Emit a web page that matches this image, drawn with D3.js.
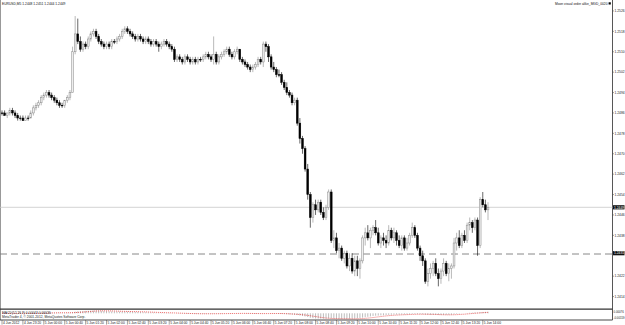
<!DOCTYPE html>
<html lang="en">
<head>
<meta charset="UTF-8">
<title>EURUSD,M5</title>
<script src="https://cdn.jsdelivr.net/npm/d3@7/dist/d3.min.js"></script>
<style>
    html, body { margin: 0; padding: 0; background: #fff; }
    svg { display: block; }
    text { font-family: "Liberation Sans", "DejaVu Sans", sans-serif; }
</style>
</head>
<body>
<script>
// M5 bars, 4 Jun 22:40 .. 5 Jun 14:10
const opens = [
    1.2486,1.2486,1.2485,1.2486,1.2487,1.2486,1.2485,1.2484,1.2484,1.2483,
    1.2484,1.2484,1.2486,1.2488,1.2489,1.2490,1.2492,1.2493,1.2494,1.2493,
    1.2492,1.2491,1.2490,1.2489,1.2489,1.2491,1.2492,1.2494,1.2510,1.2517,
    1.2514,1.2511,1.2513,1.2512,1.2515,1.2517,1.2518,1.2516,1.2514,1.2513,
    1.2512,1.2513,1.2512,1.2514,1.2514,1.2515,1.2516,1.2518,1.2519,1.2518,
    1.2517,1.2516,1.2515,1.2516,1.2515,1.2514,1.2515,1.2514,1.2513,1.2514,
    1.2513,1.2512,1.2513,1.2514,1.2513,1.2512,1.2511,1.2507,1.2508,1.2507,
    1.2506,1.2508,1.2507,1.2506,1.2507,1.2506,1.2507,1.2507,1.2508,1.2509,
    1.2508,1.2507,1.2509,1.2506,1.2508,1.2509,1.2510,1.2511,1.2509,1.2508,
    1.2510,1.2511,1.2507,1.2506,1.2505,1.2504,1.2503,1.2504,1.2505,1.2507,
    1.2506,1.2513,1.2512,1.2508,1.2504,1.2503,1.2501,1.2501,1.2498,1.2496,
    1.2494,1.2493,1.2490,1.2491,1.2482,1.2476,1.2472,1.2464,1.2454,1.2445,
    1.2450,1.2448,1.2451,1.2447,1.2445,1.2449,1.2455,1.2436,1.2437,1.2432,
    1.2433,1.2429,1.2431,1.2426,1.2429,1.2424,1.2428,1.2425,1.2428,1.2437,
    1.2439,1.2437,1.2440,1.2441,1.2439,1.2435,1.2437,1.2436,1.2435,1.2440,
    1.2437,1.2439,1.2436,1.2434,1.2437,1.2433,1.2435,1.2438,1.2441,1.2438,
    1.2433,1.2430,1.2428,1.2420,1.2423,1.2425,1.2427,1.2423,1.2421,1.2424,
    1.2427,1.2423,1.2425,1.2426,1.2435,1.2437,1.2434,1.2438,1.2436,1.2442,
    1.2443,1.2441,1.2444,1.2434,1.2452,1.2450,1.2448
];
const highs = [
    1.2487,1.2487,1.2486,1.2488,1.2488,1.2487,1.2486,1.2485,1.2485,1.2485,
    1.2485,1.2487,1.2489,1.2490,1.2491,1.2493,1.2494,1.2495,1.2495,1.2494,
    1.2493,1.2492,1.2491,1.2490,1.2491,1.2493,1.2495,1.2512,1.2524,1.2523,
    1.2516,1.2514,1.2514,1.2516,1.2518,1.2519,1.2519,1.2517,1.2515,1.2514,
    1.2514,1.2514,1.2515,1.2515,1.2516,1.2517,1.2519,1.2520,1.2520,1.2519,
    1.2518,1.2517,1.2517,1.2517,1.2516,1.2516,1.2516,1.2515,1.2515,1.2515,
    1.2514,1.2514,1.2515,1.2515,1.2514,1.2513,1.2512,1.2509,1.2509,1.2508,
    1.2509,1.2509,1.2508,1.2508,1.2508,1.2508,1.2508,1.2509,1.2510,1.2510,
    1.2509,1.2516,1.2510,1.2509,1.2510,1.2511,1.2512,1.2512,1.2510,1.2511,
    1.2512,1.2511,1.2508,1.2507,1.2506,1.2505,1.2505,1.2506,1.2508,1.2508,
    1.2514,1.2514,1.2513,1.2509,1.2506,1.2504,1.2503,1.2502,1.2499,1.2498,
    1.2495,1.2494,1.2492,1.2492,1.2484,1.2477,1.2473,1.2466,1.2455,1.2451,
    1.2452,1.2452,1.2452,1.2449,1.2450,1.2456,1.2456,1.2440,1.2439,1.2435,
    1.2434,1.2432,1.2432,1.2431,1.2431,1.2430,1.2430,1.2429,1.2438,1.2441,
    1.2442,1.2441,1.2442,1.2444,1.2441,1.2438,1.2439,1.2438,1.2442,1.2441,
    1.2441,1.2440,1.2438,1.2438,1.2438,1.2437,1.2439,1.2443,1.2442,1.2439,
    1.2434,1.2432,1.2429,1.2425,1.2427,1.2428,1.2429,1.2425,1.2425,1.2429,
    1.2428,1.2427,1.2427,1.2437,1.2439,1.2440,1.2439,1.2440,1.2443,1.2445,
    1.2444,1.2445,1.2445,1.2453,1.2455,1.2452,1.2451
];
const lows = [
    1.2485,1.2485,1.2484,1.2485,1.2485,1.2484,1.2483,1.2483,1.2483,1.2483,
    1.2483,1.2484,1.2485,1.2487,1.2488,1.2489,1.2491,1.2492,1.2492,1.2491,
    1.2490,1.2489,1.2488,1.2488,1.2488,1.2490,1.2491,1.2494,1.2509,1.2513,
    1.2510,1.2510,1.2511,1.2511,1.2514,1.2516,1.2515,1.2513,1.2512,1.2511,
    1.2511,1.2511,1.2511,1.2513,1.2513,1.2514,1.2515,1.2517,1.2517,1.2516,
    1.2515,1.2514,1.2514,1.2514,1.2513,1.2513,1.2513,1.2512,1.2512,1.2512,
    1.2510,1.2511,1.2512,1.2512,1.2511,1.2510,1.2506,1.2506,1.2506,1.2505,
    1.2505,1.2506,1.2505,1.2505,1.2505,1.2505,1.2506,1.2506,1.2507,1.2507,
    1.2506,1.2505,1.2505,1.2505,1.2507,1.2508,1.2509,1.2508,1.2507,1.2507,
    1.2509,1.2506,1.2505,1.2504,1.2503,1.2502,1.2502,1.2503,1.2504,1.2505,
    1.2504,1.2510,1.2506,1.2503,1.2502,1.2500,1.2500,1.2497,1.2495,1.2493,
    1.2492,1.2489,1.2489,1.2481,1.2474,1.2470,1.2463,1.2452,1.2441,1.2443,
    1.2446,1.2447,1.2446,1.2444,1.2444,1.2448,1.2435,1.2433,1.2431,1.2429,
    1.2428,1.2427,1.2425,1.2424,1.2423,1.2422,1.2422,1.2421,1.2427,1.2434,
    1.2436,1.2433,1.2438,1.2438,1.2434,1.2433,1.2434,1.2433,1.2434,1.2436,
    1.2435,1.2434,1.2433,1.2432,1.2432,1.2432,1.2434,1.2437,1.2437,1.2432,
    1.2428,1.2426,1.2419,1.2418,1.2421,1.2422,1.2422,1.2418,1.2419,1.2422,
    1.2422,1.2420,1.2421,1.2425,1.2432,1.2433,1.2433,1.2435,1.2435,1.2440,
    1.2439,1.2440,1.2430,1.2433,1.2449,1.2447,1.2444
];
const closes = [
    1.2486,1.2485,1.2486,1.2487,1.2486,1.2485,1.2484,1.2484,1.2483,1.2484,
    1.2484,1.2486,1.2488,1.2489,1.2490,1.2492,1.2493,1.2494,1.2493,1.2492,
    1.2491,1.2490,1.2489,1.2489,1.2491,1.2492,1.2494,1.2510,1.2517,1.2514,
    1.2511,1.2513,1.2512,1.2515,1.2517,1.2518,1.2516,1.2514,1.2513,1.2512,
    1.2513,1.2512,1.2514,1.2514,1.2515,1.2516,1.2518,1.2519,1.2518,1.2517,
    1.2516,1.2515,1.2516,1.2515,1.2514,1.2515,1.2514,1.2513,1.2514,1.2513,
    1.2512,1.2513,1.2514,1.2513,1.2512,1.2511,1.2507,1.2508,1.2507,1.2506,
    1.2508,1.2507,1.2506,1.2507,1.2506,1.2507,1.2507,1.2508,1.2509,1.2508,
    1.2507,1.2509,1.2506,1.2508,1.2509,1.2510,1.2511,1.2509,1.2508,1.2510,
    1.2511,1.2507,1.2506,1.2505,1.2504,1.2503,1.2504,1.2505,1.2507,1.2506,
    1.2513,1.2512,1.2508,1.2504,1.2503,1.2501,1.2501,1.2498,1.2496,1.2494,
    1.2493,1.2490,1.2491,1.2482,1.2476,1.2472,1.2464,1.2454,1.2445,1.2450,
    1.2448,1.2451,1.2447,1.2445,1.2449,1.2455,1.2436,1.2437,1.2432,1.2433,
    1.2429,1.2431,1.2426,1.2429,1.2424,1.2428,1.2425,1.2428,1.2437,1.2439,
    1.2437,1.2440,1.2441,1.2439,1.2435,1.2437,1.2436,1.2435,1.2440,1.2437,
    1.2439,1.2436,1.2434,1.2437,1.2433,1.2435,1.2438,1.2441,1.2438,1.2433,
    1.2430,1.2428,1.2420,1.2423,1.2425,1.2427,1.2423,1.2421,1.2424,1.2427,
    1.2423,1.2425,1.2426,1.2435,1.2437,1.2434,1.2438,1.2436,1.2442,1.2443,
    1.2441,1.2444,1.2434,1.2452,1.2450,1.2448,1.2449
];

// time axis: one label every 8 bars
const timeLabels = [
    '4 Jun 2012','4 Jun 23:20','5 Jun 00:00','5 Jun 00:40','5 Jun 01:20','5 Jun 02:00',
    '5 Jun 02:40','5 Jun 03:20','5 Jun 04:00','5 Jun 04:40','5 Jun 05:20','5 Jun 06:00',
    '5 Jun 06:40','5 Jun 07:20','5 Jun 08:00','5 Jun 08:40','5 Jun 09:20','5 Jun 10:00',
    '5 Jun 10:40','5 Jun 11:20','5 Jun 12:00','5 Jun 12:40','5 Jun 13:20','5 Jun 14:00'
];
const priceTicks = [
    1.2414,1.2422,1.2430,1.2438,1.2446,1.2454,1.2462,1.2470,
    1.2478,1.2486,1.2494,1.2502,1.2510,1.2518,1.2526
];
const bidPrice = 1.2449;
const hlinePrice = 1.2431;
const symbolName = 'EURUSD,M5';
const eaName = 'Moon visual order alike_MGD_0020';
const copyright = 'MetaTrader 4, \u00a9 2001-2012, MetaQuotes Software Corp.';

let svg = d3.select('body')
    .append('svg')
    .attr('width', 625)
    .attr('height', 325);

let bars = closes.map((c, i) => ({i: i, o: opens[i], h: highs[i], l: lows[i], c: c}));

// 2.6px per bar, price 2.55px per pip
let x = d3.scaleLinear().domain([0, bars.length - 1]).range([2, 488]);
let y = d3.scaleLinear().domain([1.2449, 1.2524]).range([207.3, 16.05]);

let fs = 3.3;
let chartRight = 612.5;

// frame
svg.append('line').attr('x1', 0.5).attr('x2', 0.5).attr('y1', 0).attr('y2', 320)
    .style('stroke', '#999').style('stroke-width', 1);
svg.append('line').attr('x1', chartRight).attr('x2', chartRight).attr('y1', 0).attr('y2', 320)
    .style('stroke', '#444').style('stroke-width', 0.9);
svg.append('line').attr('x1', 0).attr('x2', chartRight).attr('y1', 309.2).attr('y2', 309.2)
    .style('stroke', '#333').style('stroke-width', 1.3);
svg.append('line').attr('x1', 0).attr('x2', chartRight).attr('y1', 320).attr('y2', 320)
    .style('stroke', '#333').style('stroke-width', 0.9);

// bid line and horizontal dashed line
svg.append('line').attr('x1', 0).attr('x2', chartRight).attr('y1', y(bidPrice)).attr('y2', y(bidPrice))
    .style('stroke', '#c8c8c8').style('stroke-width', 0.8);
svg.append('line').attr('x1', 0).attr('x2', chartRight).attr('y1', y(hlinePrice) + 0.8).attr('y2', y(hlinePrice) + 0.8)
    .style('stroke', '#7a7a7a').style('stroke-width', 0.9).style('stroke-dasharray', '7,4');

// candles
let g = svg.append('g');
bars.forEach(b => {
    let bull = b.c > b.o;
    let col = bull ? '#8a8a8a' : '#000';
    g.append('line')
        .attr('x1', x(b.i)).attr('x2', x(b.i))
        .attr('y1', y(b.h)).attr('y2', y(b.l))
        .style('stroke', col).style('stroke-width', 0.6);
    let top = y(Math.max(b.o, b.c));
    let hgt = Math.max(0.6, Math.abs(y(b.o) - y(b.c)));
    g.append('rect')
        .attr('x', x(b.i) - 0.9).attr('width', 1.8)
        .attr('y', top).attr('height', hgt)
        .style('fill', bull ? '#eee' : '#000')
        .style('stroke', col).style('stroke-width', 0.5);
});

// price axis
let boxes = [bidPrice, hlinePrice];
priceTicks.forEach(t => {
    if (boxes.some(p => Math.abs(y(p) - y(t)) < 5)) return;
    svg.append('line').attr('x1', chartRight).attr('x2', chartRight + 1.5)
        .attr('y1', y(t)).attr('y2', y(t)).style('stroke', '#444').style('stroke-width', 0.5);
    svg.append('text').attr('x', 614.5).attr('y', y(t) + 1.2)
        .style('font-size', fs + 'px').style('fill', '#222')
        .text(t.toFixed(4));
});
boxes.forEach(p => {
    svg.append('rect').attr('x', 613).attr('y', y(p) - 2.1).attr('width', 11.5).attr('height', 4.2)
        .style('fill', '#111');
    svg.append('text').attr('x', 614).attr('y', y(p) + 1.2)
        .style('font-size', fs + 'px').style('fill', '#fff')
        .text(p.toFixed(4));
});

// time axis
timeLabels.forEach((t, k) => {
    let xi = x(k * 8);
    svg.append('line').attr('x1', xi).attr('x2', xi).attr('y1', 320).attr('y2', 324.6)
        .style('stroke', '#444').style('stroke-width', 0.5);
    svg.append('text').attr('x', xi + 1).attr('y', 324.4)
        .style('font-size', fs + 'px').style('fill', '#222')
        .text(t);
});

// MACD(12,26,9) sub window
function ema(arr, n) {
    let k = 2 / (n + 1), out = [];
    arr.forEach((v, i) => out.push(i ? out[i - 1] + k * (v - out[i - 1]) : v));
    return out;
}
let e12 = ema(closes, 12), e26 = ema(closes, 26);
let macd = closes.map((c, i) => e12[i] - e26[i]);
let signal = macd.map((m, i) => d3.mean(macd.slice(Math.max(0, i - 8), i + 1)));
let ext = d3.extent(macd.concat(signal));
let ym = d3.scaleLinear().domain(ext).range([318.9, 310.6]);

let mg = svg.append('g');
macd.forEach((m, i) => {
    mg.append('line').attr('x1', x(i)).attr('x2', x(i))
        .attr('y1', ym(0)).attr('y2', ym(m))
        .style('stroke', '#b4b4b4').style('stroke-width', 0.9);
});
let sigLine = d3.line().x((d, i) => x(i)).y(d => ym(d));
mg.append('path').attr('d', sigLine(signal))
    .style('fill', 'none').style('stroke', '#e00000')
    .style('stroke-width', 0.6).style('stroke-dasharray', '1,1');

svg.append('text').attr('x', 2).attr('y', 313.6)
    .style('font-size', fs + 'px').style('fill', '#222')
    .text('MACD(12,26,9) ' + macd[macd.length - 1].toFixed(5) + ' ' + signal[signal.length - 1].toFixed(5));
svg.append('text').attr('x', 2).attr('y', 317.8)
    .style('font-size', fs + 'px').style('fill', '#222')
    .text(copyright);
svg.append('text').attr('x', 613.6).attr('y', 313.4)
    .style('font-size', '2.8px').style('fill', '#222')
    .text(ext[1].toFixed(5));
svg.append('text').attr('x', 613.6).attr('y', 318.6)
    .style('font-size', '2.8px').style('fill', '#222')
    .text(ext[0].toFixed(5));

// header texts
let last = bars[bars.length - 1];
svg.append('text').attr('x', 2).attr('y', 4.6)
    .style('font-size', fs + 'px').style('fill', '#111')
    .text(symbolName + '  ' + [last.o, last.h, last.l, last.c].map(v => v.toFixed(4)).join(' '));
svg.append('text').attr('x', 607.5).attr('y', 4.6).attr('text-anchor', 'end')
    .style('font-size', fs + 'px').style('fill', '#111')
    .text(eaName);
svg.append('rect').attr('x', 608.6).attr('y', 2.3).attr('width', 2.2).attr('height', 2.2)
    .style('fill', '#000');
</script>
</body>
</html>
